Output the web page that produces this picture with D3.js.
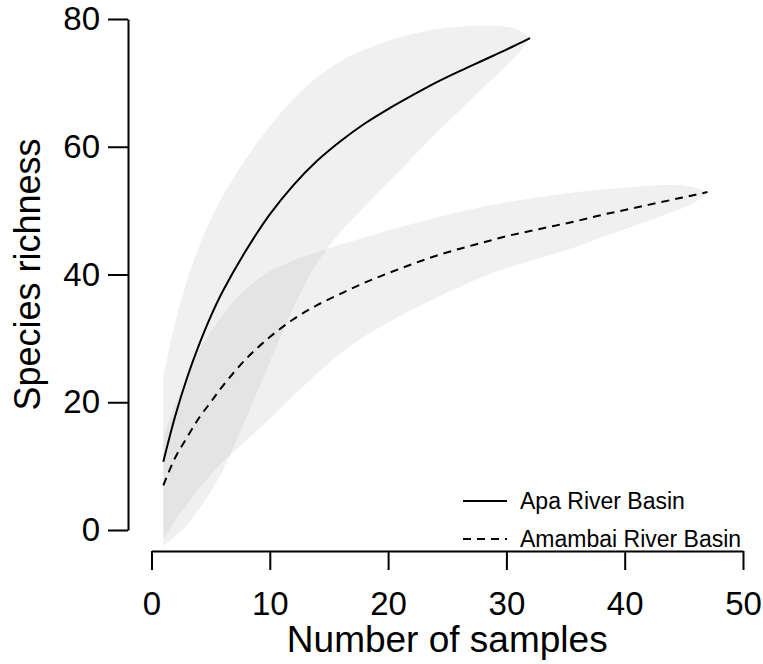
<!DOCTYPE html>
<html>
<head>
<meta charset="utf-8">
<script src="https://cdn.jsdelivr.net/npm/d3@7"></script>
<style>
  body { margin: 0; background: #fff; }
  svg text { font-family: "Liberation Sans", Arial, sans-serif; fill: #000; }
</style>
</head>
<body>
<div id="chart"></div>
<script>
// rarefaction curves
const apaSamples   = [1, 2, 3, 4, 5, 6, 8, 10, 12, 14, 16, 18, 20, 22, 24, 26, 28, 30, 31, 32];
const apaRichness  = [10.7, 17.8, 23.8, 28.9, 33.4, 37.3, 43.8, 49.4, 54.0, 57.8, 60.9, 63.6, 65.9, 68.0, 70.0, 71.8, 73.5, 75.2, 76.1, 77.0];
const apaUpper     = [24, 32.5, 39, 44.3, 48.6, 52.2, 58.2, 63.2, 67.5, 70.9, 73.4, 75.2, 76.6, 77.6, 78.4, 78.8, 79.0, 78.8, 78.3, 77.0];
const apaLower     = [-2.5, -1, 0.8, 3.2, 6.0, 9.2, 17.5, 26.3, 34.8, 41.8, 46.7, 50.6, 54.4, 58.2, 62.0, 65.6, 69.2, 72.7, 74.6, 77.0];

const amaSamples   = [1, 2, 3, 4, 5, 6, 8, 10, 12, 14, 16, 18, 20, 22, 24, 26, 28, 30, 32, 34, 36, 38, 40, 42, 44, 45, 46, 47];
const amaRichness  = [7.0, 11.3, 14.5, 17.5, 20.0, 22.5, 26.8, 30.2, 33.0, 35.2, 37.0, 38.7, 40.2, 41.6, 42.9, 44.0, 45.0, 46.0, 46.8, 47.6, 48.4, 49.3, 50.1, 50.9, 51.7, 52.1, 52.5, 52.9];
const amaUpper     = [14.6, 19.5, 24, 28, 31, 33.6, 37.8, 40.5, 42.2, 43.5, 44.7, 45.8, 46.9, 47.9, 48.9, 49.8, 50.6, 51.3, 51.9, 52.4, 52.9, 53.3, 53.6, 53.9, 54.0, 53.9, 53.6, 52.9];
const amaLower     = [-1.5, 1.5, 4, 6.4, 8.6, 10.6, 14.0, 17.4, 21.0, 24.5, 27.7, 30.3, 32.5, 34.5, 36.3, 38.0, 39.6, 41.0, 42.1, 43.2, 44.4, 45.8, 47.1, 48.4, 49.8, 50.5, 51.4, 52.9];

const xTicks = [0, 10, 20, 30, 40, 50];
const yTicks = [0, 20, 40, 60, 80];
const legendLabels = ["Apa River Basin", "Amambai River Basin"];

const width = 763, height = 664;

const svg = d3.select("#chart").append("svg")
    .attr("width", width)
    .attr("height", height);

const x = d3.scaleLinear().domain([0, 50]).range([151.5, 743]);
const y = d3.scaleLinear().domain([0, 80]).range([530, 19]);

function rows(xs, mid, lo, hi) {
    return xs.map((s, i) => ({ s: s, m: mid[i], lo: lo[i], hi: hi[i] }));
}
const apa = rows(apaSamples, apaRichness, apaLower, apaUpper);
const ama = rows(amaSamples, amaRichness, amaLower, amaUpper);

const band = d3.area()
    .x(d => x(d.s))
    .y0(d => y(d.lo))
    .y1(d => y(d.hi))
    .curve(d3.curveCatmullRom.alpha(0.5));

const line = d3.line()
    .x(d => x(d.s))
    .y(d => y(d.m))
    .curve(d3.curveCatmullRom.alpha(0.5));

// confidence bands (semi transparent so the overlap gets darker)
[apa, ama].forEach(d => {
    svg.append("path")
        .datum(d)
        .attr("d", band)
        .attr("fill", "#bfbfbf")
        .attr("fill-opacity", 0.24);
});

svg.append("path")
    .datum(apa)
    .attr("d", line)
    .attr("fill", "none")
    .attr("stroke", "#000")
    .attr("stroke-width", 2);

svg.append("path")
    .datum(ama)
    .attr("d", line)
    .attr("fill", "none")
    .attr("stroke", "#000")
    .attr("stroke-width", 2)
    .attr("stroke-dasharray", "8,6");

// axes, R style
const yAxis = svg.append("g")
    .attr("transform", "translate(128,0)")
    .call(d3.axisLeft(y).tickValues(yTicks).tickSize(20).tickSizeOuter(0).tickPadding(8));

const xAxis = svg.append("g")
    .attr("transform", "translate(0,551)")
    .call(d3.axisBottom(x).tickValues(xTicks).tickSize(19).tickSizeOuter(0).tickPadding(22));

[yAxis, xAxis].forEach(g => {
    g.selectAll("path, line").attr("stroke", "#000").attr("stroke-width", 2);
    g.selectAll("text").style("font-size", "33px");
});

svg.append("text")
    .attr("x", (x(0) + x(50)) / 2)
    .attr("y", 652)
    .attr("text-anchor", "middle")
    .style("font-size", "37px")
    .text("Number of samples");

svg.append("text")
    .attr("transform", "translate(40," + (y(0) + y(80)) / 2 + ") rotate(-90)")
    .attr("text-anchor", "middle")
    .style("font-size", "36px")
    .text("Species richness");

// legend
const legend = svg.append("g");
legendLabels.forEach((lab, i) => {
    const ly = 501 + i * 38;
    legend.append("line")
        .attr("x1", 463).attr("x2", 507)
        .attr("y1", ly).attr("y2", ly)
        .attr("stroke", "#000")
        .attr("stroke-width", 2)
        .attr("stroke-dasharray", i === 0 ? null : "8,6");
    legend.append("text")
        .attr("x", 520)
        .attr("y", ly)
        .attr("dy", "0.35em")
        .style("font-size", "23px")
        .text(lab);
});
</script>
</body>
</html>
